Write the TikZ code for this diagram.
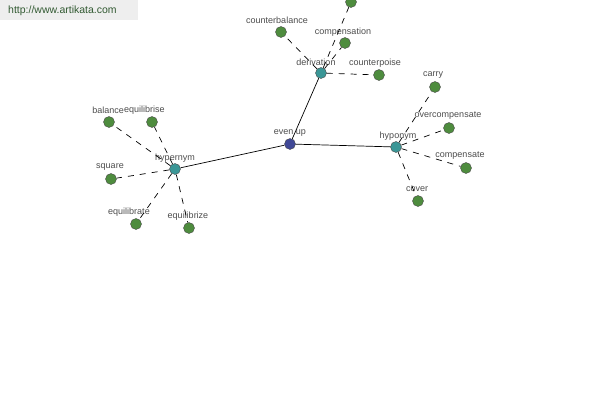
\documentclass[tikz,border=0pt]{standalone}
\usepackage{fontspec}
\setmainfont{Liberation Sans}
\usepackage{tikz}
\usetikzlibrary{positioning}
\definecolor{leafgreen}{RGB}{78,140,62}
\definecolor{hubteal}{RGB}{58,150,150}
\definecolor{rootblue}{RGB}{64,72,150}
\definecolor{linkgrey}{RGB}{238,238,238}
\definecolor{linkgreen}{RGB}{50,90,50}
\tikzset{
  leaf/.style={circle,draw=black!70,fill=leafgreen,inner sep=0pt,minimum size=11pt},
  hub/.style={circle,draw=black!70,fill=hubteal,inner sep=0pt,minimum size=11pt},
  root/.style={circle,draw=black!70,fill=rootblue,inner sep=0pt,minimum size=11pt},
  wlab/.style={font=\fontsize{9}{10}\selectfont,text=black!70,inner sep=0pt},
  rel/.style={line width=0.7pt,black},
  syn/.style={line width=0.7pt,black,dash pattern=on 6pt off 6pt}
}
\begin{document}
\begin{tikzpicture}[x=1pt,y=-1pt]
    \useasboundingbox (0,0) rectangle (600,400);
    \fill[linkgrey] (0,0) rectangle (138,20);
    \node[anchor=west,font=\fontsize{10.5}{12}\selectfont,text=linkgreen,inner sep=0pt] (site) at (8,11) {http://www.artikata.com};
    % centre and relation hubs
    \node[root] (evenup) at (290,144) {}; \node[wlab] at (290,133) {even up};
    \node[hub] (hyper) at (175,169) {}; \node[wlab] at (175,158) {hypernym};
    \node[hub] (deriv) at (321,73) {}; \node[wlab] at (316,62) {derivation};
    \node[hub] (hypo) at (396,147) {}; \node[wlab] at (398,136) {hyponym};
    \draw[rel] (evenup)--(hyper); \draw[rel] (evenup)--(deriv); \draw[rel] (evenup)--(hypo);
    % hypernym leaves
    \node[leaf] (bal) at (109,122) {}; \node[wlab,anchor=east] at (124,110) {balance};
    \node[leaf] (equis) at (152,122) {}; \node[wlab,anchor=west] at (124,110) {equilibrise};
    \node[leaf] (sq) at (111,179) {}; \node[wlab] at (110,167) {square};
    \node[leaf] (equate) at (136,224) {}; \node[wlab] at (129,212) {equilibrate};
    \node[leaf] (equize) at (189,228) {}; \node[wlab] at (188,216) {equilibrize};
    \foreach \n in {bal,equis,sq,equate,equize} \draw[syn] (hyper)--(\n);
    % derivation leaves
    \node[leaf] (cbal) at (281,32) {}; \node[wlab] at (277,20) {counterbalance};
    \node[leaf] (comp) at (345,43) {}; \node[wlab] at (343,32) {compensation};
    \node[leaf] (top) at (351,2) {};
    \node[leaf] (cpoise) at (379,75) {}; \node[wlab] at (375,63) {counterpoise};
    \foreach \n in {cbal,comp,top,cpoise} \draw[syn] (deriv)--(\n);
    % hyponym leaves
    \node[leaf] (carry) at (435,87) {}; \node[wlab] at (433,75) {carry};
    \node[leaf] (ocomp) at (449,128) {}; \node[wlab] at (448,116) {overcompensate};
    \node[leaf] (compens) at (466,168) {}; \node[wlab] at (460,156) {compensate};
    \node[leaf] (cover) at (418,201) {}; \node[wlab] at (417,189) {cover};
    \foreach \n in {carry,ocomp,compens,cover} \draw[syn] (hypo)--(\n);
\end{tikzpicture}
\end{document}
